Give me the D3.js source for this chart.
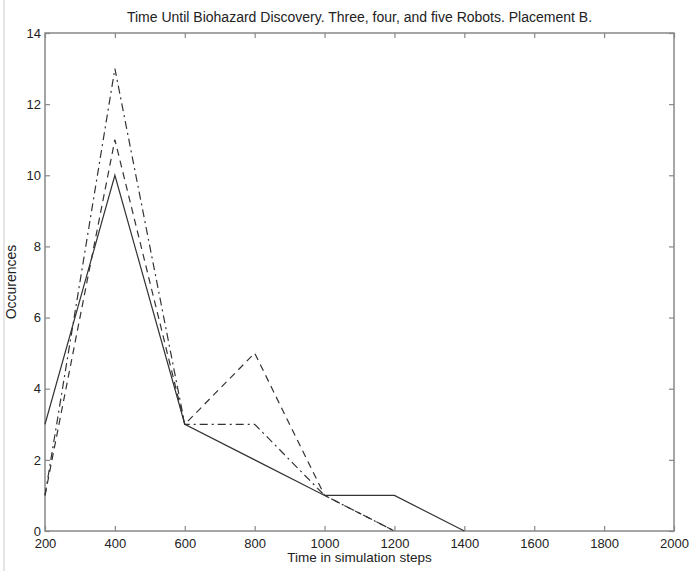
<!DOCTYPE html>
<html>
<head>
<meta charset="utf-8">
<script src="https://cdn.jsdelivr.net/npm/d3@7"></script>
<style>
  body { margin: 0; background: #fff; }
  text { font-family: "Liberation Sans", Arial, sans-serif; fill: #222; }
</style>
</head>
<body>
<div id="container"></div>
<script>
let w = 690;
let h = 571;
let margin = { top: 33, right: 16, bottom: 40, left: 45 };

// data
let steps3 = [200, 400, 600, 800, 1000, 1200, 1400];
let robots3 = [3, 10, 3, 2, 1, 1, 0];
let steps4 = [200, 400, 600, 800, 1000, 1200];
let robots4 = [1, 11, 3, 5, 1, 0];
let steps5 = [200, 400, 600, 800, 1000, 1200];
let robots5 = [1, 13, 3, 3, 1, 0];

let xTicks = [200, 400, 600, 800, 1000, 1200, 1400, 1600, 1800, 2000];
let yTicks = [0, 2, 4, 6, 8, 10, 12, 14];

let axisColor = '#888';
let lineColor = '#333';
let tickFont = '13px';

let svg = d3.select('#container')
  .append('svg')
    .attr('width', w)
    .attr('height', h);

// faint scan edge on the left
svg.append('line')
  .attr('x1', 4).attr('x2', 4)
  .attr('y1', 0).attr('y2', h)
  .attr('stroke', '#ddd')
  .attr('stroke-width', 1.5);

let x = d3.scaleLinear().domain([200, 2000]).range([margin.left, w - margin.right]);
let y = d3.scaleLinear().domain([0, 14]).range([h - margin.bottom, margin.top]);

//frame
svg.append('rect')
  .attr('x', margin.left)
  .attr('y', margin.top)
  .attr('width', x(2000) - x(200))
  .attr('height', y(0) - y(14))
  .attr('fill', 'none')
  .attr('stroke', axisColor)
  .attr('stroke-width', 1.5);

//axes with inward ticks
let xAxis = svg.append('g')
  .attr('transform', 'translate(0,' + y(0) + ')')
  .call(d3.axisBottom(x).tickValues(xTicks).tickFormat(d3.format('d'))
    .tickSizeInner(-5).tickSizeOuter(0).tickPadding(8));
let xAxisTop = svg.append('g')
  .attr('transform', 'translate(0,' + y(14) + ')')
  .call(d3.axisTop(x).tickValues(xTicks).tickSizeInner(-5).tickSizeOuter(0).tickFormat(''));
let yAxis = svg.append('g')
  .attr('transform', 'translate(' + x(200) + ',0)')
  .call(d3.axisLeft(y).tickValues(yTicks).tickFormat(d3.format('d'))
    .tickSizeInner(-5).tickSizeOuter(0).tickPadding(4));
let yAxisRight = svg.append('g')
  .attr('transform', 'translate(' + x(2000) + ',0)')
  .call(d3.axisRight(y).tickValues(yTicks).tickSizeInner(-5).tickSizeOuter(0).tickFormat(''));

[xAxis, xAxisTop, yAxis, yAxisRight].forEach(function(g) {
  g.attr('font-size', tickFont).attr('font-family', '"Liberation Sans", Arial, sans-serif');
  g.select('.domain').remove();
  g.selectAll('.tick line').attr('stroke', axisColor).attr('stroke-width', 1.2);
  g.selectAll('.tick text').attr('fill', '#222');
});

//series
let line = d3.line()
  .x(function(d) { return x(d[0]); })
  .y(function(d) { return y(d[1]); });

let series = [
  { steps: steps3, vals: robots3, dash: null },
  { steps: steps4, vals: robots4, dash: '7,5' },
  { steps: steps5, vals: robots5, dash: '8,4,2,4' }
];

series.forEach(function(s) {
  svg.append('path')
    .datum(s.steps.map(function(t, i) { return [t, s.vals[i]]; }))
    .attr('d', line)
    .attr('fill', 'none')
    .attr('stroke', lineColor)
    .attr('stroke-width', 1.2)
    .attr('stroke-dasharray', s.dash);
});

//title and labels
svg.append('text')
  .attr('x', (x(200) + x(2000)) / 2)
  .attr('y', 22)
  .attr('text-anchor', 'middle')
  .style('font-size', '14px')
  .text('Time Until Biohazard Discovery. Three, four, and five Robots. Placement B.');

svg.append('text')
  .attr('x', (x(200) + x(2000)) / 2)
  .attr('y', 562)
  .attr('text-anchor', 'middle')
  .style('font-size', '13.5px')
  .text('Time in simulation steps');

svg.append('text')
  .attr('transform', 'translate(16,' + (y(7)) + ') rotate(-90)')
  .attr('text-anchor', 'middle')
  .style('font-size', '14px')
  .text('Occurences');
</script>
</body>
</html>
